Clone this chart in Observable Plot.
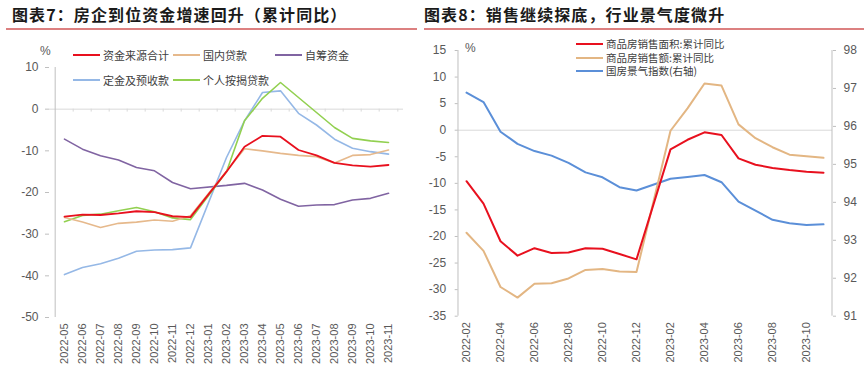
<!DOCTYPE html>
<html><head><meta charset="utf-8">
<script src="https://cdn.jsdelivr.net/npm/d3@7"></script>
<script src="https://cdn.jsdelivr.net/npm/@observablehq/plot@0.6"></script>
<style>
body{margin:0;background:#fff;}
#wrap{position:relative;width:864px;height:370px;overflow:hidden;font-family:"Noto Sans CJK SC","Noto Sans",sans-serif;}
.title{position:absolute;top:1px;font-size:16px;font-weight:bold;color:#1a1a1a;line-height:26px;white-space:nowrap;letter-spacing:1.1px;}
.uline{position:absolute;top:28px;height:2px;background:#dc8080;}
.plot{position:absolute;top:0;}
.leg{position:absolute;font-size:11px;color:#404040;white-space:nowrap;line-height:14px;}
.leg i{position:absolute;top:6px;height:2px;}
.pct{position:absolute;font-size:12px;color:#595959;font-family:"Liberation Sans",sans-serif;}
</style></head>
<body><div id="wrap">
<div class="title" style="left:12px">图表7：房企到位资金增速回升（累计同比）</div>
<div class="uline" style="left:6px;width:411px"></div>
<div class="title" style="left:424px">图表8：销售继续探底，行业景气度微升</div>
<div class="uline" style="left:424px;width:440px"></div>
</div>
<script>
// ---------- Panel 1 data ----------
const months1 = ["2022-05","2022-06","2022-07","2022-08","2022-09","2022-10","2022-11","2022-12","2023-01","2023-02","2023-03","2023-04","2023-05","2023-06","2023-07","2023-08","2023-09","2023-10","2023-11"];
const totalFunds   = [-25.8,-25.3,-25.4,-25.0,-24.5,-24.7,-25.7,-25.9,null,-15.0,-9.0,-6.4,-6.6,-9.8,-11.1,-12.9,-13.5,-13.8,-13.4];
const domesticLoan = [-26.0,-27.1,-28.4,-27.4,-27.1,-26.6,-26.9,-25.6,null,-14.9,-9.5,-10.0,-10.6,-11.1,-11.4,-12.9,-11.1,-10.9,-9.8];
const selfRaised   = [-7.2,-9.6,-11.2,-12.2,-14.0,-14.8,-17.6,-19.1,null,-18.3,-17.8,-19.4,-21.6,-23.3,-23.0,-22.9,-21.8,-21.4,-20.2];
const deposits     = [-39.7,-38.0,-37.1,-35.8,-34.1,-33.8,-33.7,-33.3,null,-11.6,-2.8,4.0,4.4,-1.0,-3.8,-7.2,-9.4,-10.2,-10.8];
const mortgage     = [-27.0,-25.5,-25.2,-24.4,-23.6,-24.6,-26.1,-26.5,null,-15.0,-2.8,2.6,6.4,2.8,-0.8,-4.4,-7.0,-7.6,-8.0];
const yTicks1 = [-50,-40,-30,-20,-10,0,10];
const names1 = ["资金来源合计","国内贷款","自筹资金","定金及预收款","个人按揭贷款"];
const colors1 = ["#e8101e","#e6b98c","#8064a2","#95b8e6","#92d050"];

// ---------- Panel 2 data ----------
const months2 = ["2022-02","2022-03","2022-04","2022-05","2022-06","2022-07","2022-08","2022-09","2022-10","2022-11","2022-12","2023-01","2023-02","2023-03","2023-04","2023-05","2023-06","2023-07","2023-08","2023-09","2023-10","2023-11"];
const salesArea  = [-9.6,-13.8,-20.9,-23.6,-22.2,-23.1,-23.0,-22.2,-22.3,-23.3,-24.3,null,-3.6,-1.8,-0.4,-0.9,-5.3,-6.5,-7.1,-7.5,-7.8,-8.0];
const salesValue = [-19.3,-22.7,-29.5,-31.5,-28.9,-28.8,-27.9,-26.3,-26.1,-26.6,-26.7,null,-0.1,4.1,8.8,8.4,1.1,-1.5,-3.2,-4.6,-4.9,-5.2];
const climateIdx = [96.89,96.64,95.86,95.54,95.35,95.23,95.04,94.79,94.66,94.40,94.31,null,94.62,94.67,94.72,94.53,94.02,93.78,93.54,93.45,93.40,93.42];
const yTicks2L = [-35,-30,-25,-20,-15,-10,-5,0,5,10,15];
const yTicks2R = [91,92,93,94,95,96,97,98];
const names2 = ["商品房销售面积:累计同比","商品房销售额:累计同比","国房景气指数(右轴)"];
const colors2 = ["#e8101e","#e3b683","#5b8fd8"];

const axisFont = "Liberation Sans, Arial, sans-serif";
const wrap = document.getElementById("wrap");

// ---------- Panel 1 ----------
{
  const W = 420, H = 370, mL = 49, mR = 17, mT = 67, mB = 53;
  const step = (W - mL - mR) / months1.length;
  const series = [totalFunds, domesticLoan, selfRaised, deposits, mortgage];
  const lineMarks = series.map((s, k) => Plot.line(
    months1.map((m, i) => ({m, v: s[i]})).filter(d => d.v != null),
    {x: "m", y: "v", stroke: colors1[k], strokeWidth: k === 0 ? 1.8 : 1.6}));
  const ordered = [lineMarks[2], lineMarks[3], lineMarks[4], lineMarks[1], lineMarks[0]];
  const p = Plot.plot({
    width: W, height: H, marginLeft: mL, marginRight: mR, marginTop: mT, marginBottom: mB,
    style: {fontFamily: axisFont, background: "transparent", color: "#595959"},
    x: {type: "point", domain: months1, padding: 0.5},
    y: {domain: [-50, 10]},
    marks: [
      Plot.ruleY([0], {stroke: "#d9d9d9", strokeWidth: 1}),
      Plot.ruleX(months1.slice(1), {x: d => d, y1: 0, y2: -0.7, dx: -step / 2, stroke: "#d9d9d9"}),
      Plot.ruleX([months1[months1.length - 1]], {x: d => d, y1: 0, y2: -0.7, dx: step / 2, stroke: "#d9d9d9"}),
      Plot.ruleX([months1[0]], {x: d => d, y1: -50, y2: 10, dx: -step / 2, stroke: "#bfbfbf"}),
      ...ordered,
      Plot.axisY({ticks: yTicks1, tickSize: 4, tickPadding: 7, tickFormat: d => String(d), fontSize: 12, stroke: "#bfbfbf", fill: "#595959", label: null}),
      Plot.axisX({tickSize: 0, tickPadding: 6, tickRotate: -90, fontSize: 11, fill: "#595959", label: null})
    ]
  });
  p.classList.add("plot");
  p.style.left = "0px";
  wrap.appendChild(p);
}

// ---------- Panel 2 ----------
{
  const W = 444, H = 370, mL = 37.7, mR = 32, mT = 50, mB = 54.3;
  const step = (W - mL - mR) / months2.length;
  const toL = v => -35 + (v - 91) * 50 / 7;
  const fromL = y => 91 + (y + 35) * 7 / 50;
  const mk = (s, f) => months2.map((m, i) => ({m, v: s[i] == null ? null : f(s[i])})).filter(d => d.v != null);
  const p = Plot.plot({
    width: W, height: H, marginLeft: mL, marginRight: mR, marginTop: mT, marginBottom: mB,
    style: {fontFamily: axisFont, background: "transparent", color: "#595959"},
    x: {type: "point", domain: months2, padding: 0.5},
    y: {domain: [-35, 15]},
    marks: [
      Plot.ruleY([0], {stroke: "#d9d9d9", strokeWidth: 1}),
      Plot.ruleX([months2[0]], {x: d => d, y1: -35, y2: 15, dx: -step / 2, stroke: "#bfbfbf"}),
      Plot.ruleX([months2[months2.length - 1]], {x: d => d, y1: -35, y2: 15, dx: step / 2, stroke: "#bfbfbf"}),
      Plot.line(mk(climateIdx, toL), {x: "m", y: "v", stroke: colors2[2], strokeWidth: 2}),
      Plot.line(mk(salesValue, d => d), {x: "m", y: "v", stroke: colors2[1], strokeWidth: 2}),
      Plot.line(mk(salesArea, d => d), {x: "m", y: "v", stroke: colors2[0], strokeWidth: 2}),
      Plot.axisY({ticks: yTicks2L, tickSize: 3, tickPadding: 9, tickFormat: d => String(d), fontSize: 12, stroke: "#bfbfbf", fill: "#595959", label: null}),
      Plot.axisY({anchor: "right", ticks: yTicks2R.map(toL), tickSize: 3, tickPadding: 8, tickFormat: y => String(Math.round(fromL(y))), fontSize: 12, stroke: "#bfbfbf", fill: "#595959", label: null}),
      Plot.axisX({ticks: months2.filter((d, i) => i % 2 === 0), tickSize: 0, tickPadding: 6, tickRotate: -90, fontSize: 11, fill: "#595959", label: null})
    ]
  });
  p.classList.add("plot");
  p.style.left = "420px";
  wrap.appendChild(p);
}

// ---------- legends & unit labels ----------
function addLeg(x, y, name, color, w) {
  const d = document.createElement("div");
  d.className = "leg";
  d.style.left = (x + w + 3) + "px";
  d.style.top = (y - 7) + "px";
  d.textContent = name;
  const line = document.createElement("i");
  line.style.left = (-(w + 3)) + "px";
  line.style.width = w + "px";
  line.style.background = color;
  d.appendChild(line);
  wrap.appendChild(d);
  return d;
}
const leg1Pos = [[73,55],[173,55],[275,55],[73,80],[173,80]];
names1.forEach((n, i) => addLeg(leg1Pos[i][0], leg1Pos[i][1], n, colors1[i], 27));
const leg2Pos = [[576,44],[576,57.5],[576,71]];
names2.forEach((n, i) => { const d = addLeg(leg2Pos[i][0], leg2Pos[i][1], n, colors2[i], 27); d.style.fontSize = "10.5px"; });

const pct1 = document.createElement("div"); pct1.className = "pct"; pct1.textContent = "%";
pct1.style.left = "40px"; pct1.style.top = "44px"; wrap.appendChild(pct1);
const pct2 = document.createElement("div"); pct2.className = "pct"; pct2.textContent = "%";
pct2.style.left = "465px"; pct2.style.top = "41px"; wrap.appendChild(pct2);
</script>
</body></html>
